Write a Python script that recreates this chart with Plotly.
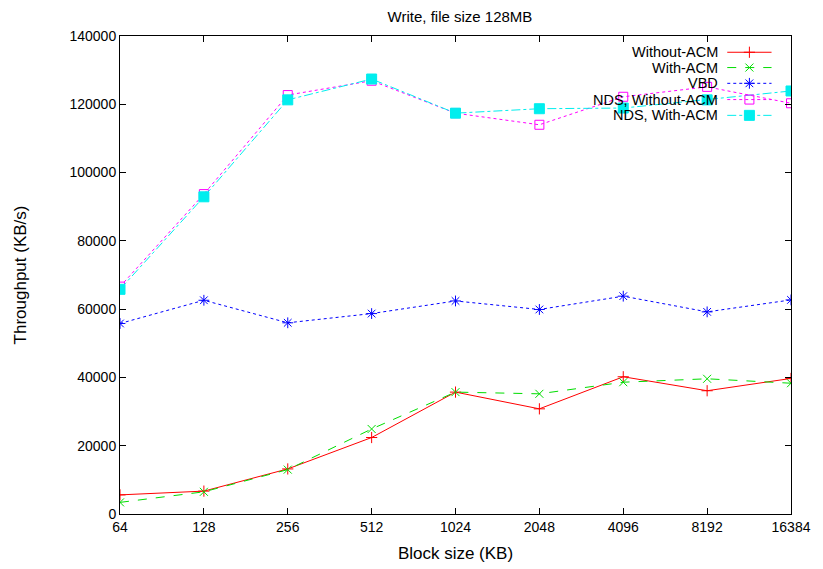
import plotly.graph_objects as go

block_sizes = ["64", "128", "256", "512", "1024", "2048", "4096", "8192", "16384"]

without_acm = [5600, 6700, 13200, 22400, 35700, 30800, 40200, 36100, 39700]
with_acm = [3400, 6500, 13000, 24900, 35700, 35200, 38600, 39600, 38300]
vbd = [55800, 62600, 56000, 58700, 62400, 59900, 63800, 59200, 62700]
nds_without_acm = [66600, 93700, 122700, 126900, 117400, 114000, 122200, 125100, 120300]
nds_with_acm = [65800, 92900, 121300, 127400, 117400, 118700, 118900, 121300, 123900]

series = [
    ("Without-ACM", without_acm, "#ff0000", "solid", "cross-thin-open", 8),
    ("With-ACM", with_acm, "#00dd00", "dash", "x-thin-open", 8),
    ("VBD", vbd, "#0000ff", "dot", "asterisk-open", 9),
    ("NDS, Without-ACM", nds_without_acm, "#ff00ff", "dot", "square-open", 9),
    ("NDS, With-ACM", nds_with_acm, "#00eeee", "dashdot", "square", 10),
]

font = "Liberation Sans, Arial, sans-serif"
fig = go.Figure()

for name, vals, color, dash, symbol, size in series:
    fig.add_trace(go.Scatter(
        x=block_sizes, y=vals, name=name, mode="lines+markers",
        line=dict(color=color, width=1, dash=dash),
        marker=dict(symbol=symbol, size=size, color=color,
                    line=dict(color=color, width=1)),
        showlegend=False,
    ))

# gnuplot-style key: text on the left, sample on the right
key_rows = [0.966, 0.934, 0.901, 0.867, 0.834]
for (name, vals, color, dash, symbol, size), ky in zip(series, key_rows):
    fig.add_trace(go.Scatter(
        x=[0.905, 0.971], y=[ky, ky], mode="lines", xaxis="x2", yaxis="y2",
        line=dict(color=color, width=1, dash=dash), showlegend=False, hoverinfo="skip",
    ))
    fig.add_trace(go.Scatter(
        x=[0.938], y=[ky], mode="markers", xaxis="x2", yaxis="y2",
        marker=dict(symbol=symbol, size=size, color=color, line=dict(color=color, width=1)),
        showlegend=False, hoverinfo="skip",
    ))
    fig.add_annotation(
        x=0.894, y=ky, xref="paper", yref="paper", text=name, showarrow=False,
        xanchor="right", yanchor="middle", font=dict(size=14.5, color="black", family=font),
    )

# page body adds an 8px offset, so the figure is shifted by that much
fig.update_layout(
    width=815, height=569,
    margin=dict(l=105, r=28, t=28, b=63),
    paper_bgcolor="white", plot_bgcolor="white",
    font=dict(family=font, size=14, color="black"),
    title=dict(text="Write, file size 128MB", x=0.5546, xanchor="center",
               y=0.984, yanchor="middle", pad=dict(t=0, b=0), font=dict(size=15)),
    xaxis=dict(
        type="category", range=[0, 8], showgrid=False, zeroline=False,
        showline=True, linecolor="black", linewidth=1, mirror="allticks",
        ticks="inside", ticklen=6, tickcolor="black",
        title=dict(text="Block size (KB)", standoff=13),
    ),
    yaxis=dict(
        range=[0, 140000], dtick=20000, showgrid=False, zeroline=False,
        showline=True, linecolor="black", linewidth=1, mirror="allticks",
        ticks="inside", ticklen=6, tickcolor="black", tickformat="d",
        title=dict(text="Throughput (KB/s)", standoff=38),
    ),
    xaxis2=dict(overlaying="x", range=[0, 1], visible=False, fixedrange=True),
    yaxis2=dict(overlaying="y", range=[0, 1], visible=False, fixedrange=True),
)

fig.write_html("out.html")
